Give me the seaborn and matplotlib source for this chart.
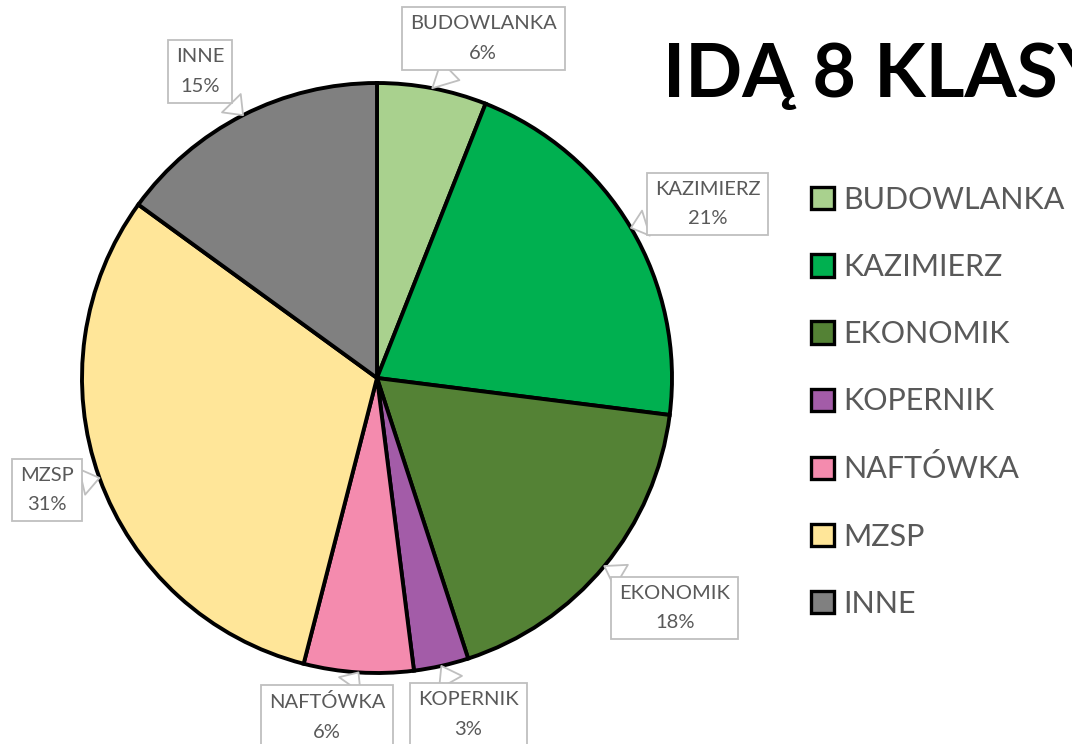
import matplotlib.pyplot as plt
import seaborn as sns
import numpy as np
from matplotlib.patches import Patch


# Data

schools = ['BUDOWLANKA', 'KAZIMIERZ', 'EKONOMIK', 'KOPERNIK', 'NAFTÓWKA', 'MZSP', 'INNE']
shares = [6, 21, 18, 3, 6, 31, 15]
colors = ['#A9D18E', '#00B050', '#548235', '#A35CA8', '#F48BAE', '#FFE699', '#808080']
title = 'IDĄ 8 KLASY'

# callout box centres, in pie radius units (layout only)
labelPos = [(0.36, 1.15), (1.12, 0.59), (1.01, -0.78), (0.31, -1.14),
            (-0.17, -1.15), (-1.12, -0.38), (-0.60, 1.04)]


sns.set_theme(style='white')
plt.rcParams['font.family'] = ['Lato', 'DejaVu Sans']

W, H = 1072, 744
fig = plt.figure(figsize=(W / 100, H / 100), dpi=100)
cx, cy, r = 377, 378, 295
ax = fig.add_axes([(cx - r) / W, (H - cy - r) / H, 2 * r / W, 2 * r / H])

wedges, _ = ax.pie(shares, colors=colors, startangle=90, counterclock=False,
                   wedgeprops={'edgecolor': 'black', 'linewidth': 2.8})
ax.set_xlim(-1, 1)
ax.set_ylim(-1, 1)
ax.set_aspect('equal')

total = sum(shares)
for w, name, val, pos in zip(wedges, schools, shares, labelPos):
  mid = np.deg2rad((w.theta1 + w.theta2) / 2)
  edge = (np.cos(mid), np.sin(mid))
  ax.annotate(f'{name}\n{round(100 * val / total)}%', xy=edge, xytext=pos,
              ha='center', va='center', fontsize=14.5, color='#595959',
              linespacing=1.9, annotation_clip=False,
              bbox=dict(boxstyle='square,pad=0.4', fc='white', ec='#BFBFBF', lw=1.3),
              arrowprops=dict(arrowstyle='wedge,tail_width=1.3', fc='white', ec='#BFBFBF',
                              lw=1.3, shrinkA=0, shrinkB=0))

fig.text(663 / W, 1 - 97 / H, title, fontsize=54, fontweight='bold', color='black',
         ha='left', va='baseline')

handles = [Patch(facecolor=c, edgecolor='black', linewidth=2.4) for c in colors]
leg = fig.legend(handles, schools, loc='upper left', bbox_to_anchor=(811 / W, 1 - 186 / H),
                 frameon=False, fontsize=22, labelcolor='#595959',
                 handlelength=0.74, handleheight=0.74, handletextpad=0.3,
                 labelspacing=1.28, borderaxespad=0, borderpad=0)

fig.savefig('out.png', dpi=100)
